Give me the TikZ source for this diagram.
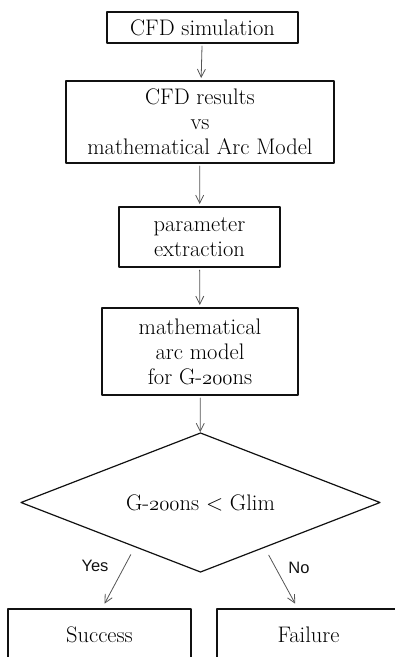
\documentclass[tikz,border=0pt]{standalone}
\usepackage{fontspec}
\usepackage{xcolor}
\usepackage{tikz}
\usetikzlibrary{arrows.meta,positioning,calc,shapes.geometric}
\newfontfamily\labelfont{Liberation Sans}
\definecolor{ink}{HTML}{111111}
\definecolor{wire}{HTML}{555555}
\newcommand{\oldnum}[1]{{\usefont{OML}{cmm}{m}{it}#1}}
\tikzset{
    every picture/.style={line cap=round,line join=round},
    flowbox/.style={draw=ink,fill=white,line width=1.2pt,
      inner sep=0pt,outer sep=0pt,align=center,
      font=\fontsize{22.5}{25}\selectfont},
    decision/.style={flowbox,diamond,aspect=2.58,minimum width=359pt,minimum height=139pt},
    flowarrow/.style={-{Straight Barb[length=8pt,width=8pt]},draw=wire,
      line width=0.8pt,shorten <=3pt,shorten >=3pt},
    branchlabel/.style={font=\labelfont\fontsize{16.5}{18}\selectfont,text=ink}
}
\begin{document}
\begin{tikzpicture}[x=1pt,y=-1pt]
  \useasboundingbox (0,0) rectangle (395,657);
  \clip (0,0) rectangle (395,657);
  % main chain
  \node[flowbox,minimum width=191pt,minimum height=31pt] (sim) at (202.5,27.5) {CFD simulation};
  \node[flowbox,minimum width=268pt,minimum height=82pt] (cmp) at (200,122)
    {CFD results\\vs\\mathematical Arc Model};
  \node[flowbox,minimum width=161pt,minimum height=60pt] (ext) at (199.5,237)
    {parameter\\extraction};
  \node[flowbox,minimum width=196pt,minimum height=87pt] (arc) at (200,351.5)
    {mathematical\\arc model\\for G-\oldnum{200}ns};
  \node[decision] (dec) at (200.5,502.5) {G-\oldnum{200}ns < Glim};
  % outcomes
  \node[flowbox,minimum width=183pt,minimum height=52pt] (suc) at (99.5,635) {Success};
  \node[flowbox,minimum width=183pt,minimum height=52pt] (fail) at (308.5,635) {Failure};
  \draw[flowarrow] (sim) -- (cmp);
  \draw[flowarrow] (cmp) -- (ext);
  \draw[flowarrow] (ext) -- (arc);
  \draw[flowarrow,shorten >=1pt] (arc) -- (dec);
  \draw[flowarrow,shorten <=9pt,shorten >=6pt] (dec.214.2) -- ([xshift=2.2pt]suc.north);
  \draw[flowarrow,shorten <=9pt,shorten >=6pt] (dec.325.8) -- ([xshift=-10.4pt]fail.north);
  \node[branchlabel] (yes) at (95,566) {Yes};
  \node[branchlabel] (no) at (299,568) {No};
\end{tikzpicture}
\end{document}
